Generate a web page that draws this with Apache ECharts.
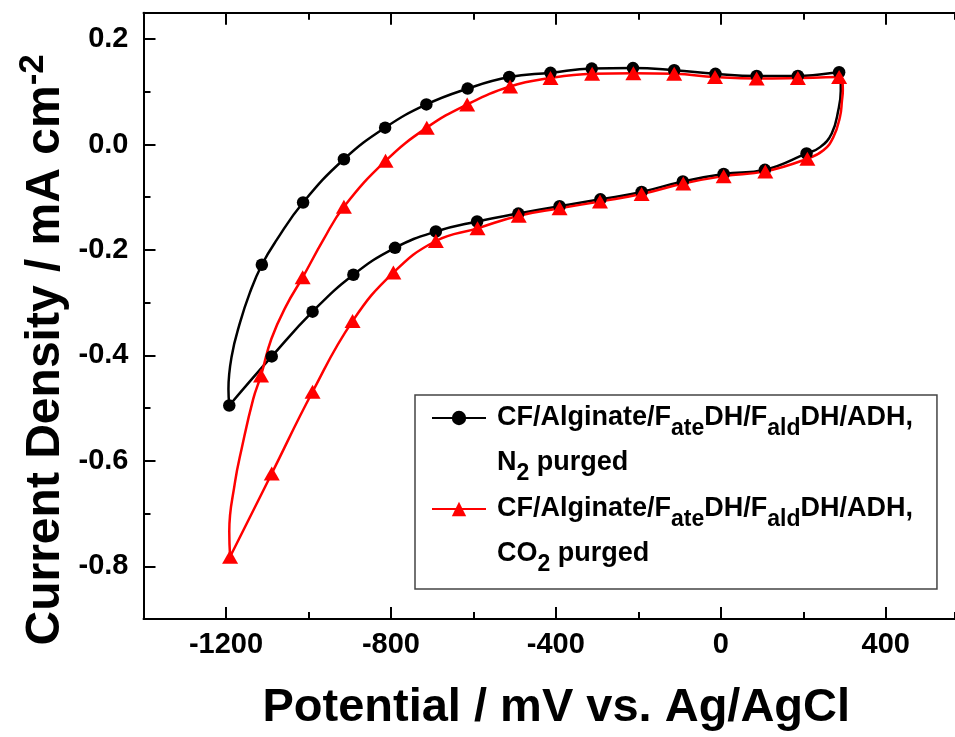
<!DOCTYPE html>
<html>
<head>
<meta charset="utf-8">
<script src="https://cdn.jsdelivr.net/npm/echarts@6/dist/echarts.min.js"></script>
<style>
  html, body { margin: 0; padding: 0; background: #fff; }
  #chart { width: 955px; height: 737px; }
</style>
</head>
<body>
<div id="chart"></div>
<script>
// Cyclic voltammograms: current density (mA cm^-2) against potential (mV vs. Ag/AgCl).
// Each path follows the scan: from the cathodic limit up to +300 mV, then back down.

const n2Path = [
  [-1192, -0.495], [-1194, -0.464], [-1186, -0.401], [-1166, -0.338], [-1142, -0.281],
  [-1113, -0.228], [-1077, -0.181], [-1013, -0.110], [-914, -0.028], [-814, 0.032],
  [-714, 0.076], [-614, 0.106], [-513, 0.128], [-413, 0.136], [-313, 0.144],
  [-213, 0.145], [-113, 0.141], [-13, 0.134], [87, 0.130], [187, 0.130],
  [287, 0.137], [291, 0.102], [285, 0.065], [269, 0.021], [241, -0.005],
  [208, -0.017], [107, -0.048], [7, -0.056], [-92, -0.070], [-192, -0.090],
  [-292, -0.104], [-391, -0.117], [-491, -0.131], [-591, -0.146], [-691, -0.165],
  [-790, -0.196], [-891, -0.247], [-990, -0.317], [-1089, -0.402], [-1192, -0.495]
];

const n2Markers = [
  [-1192, -0.495], [-1113, -0.228], [-1013, -0.110], [-914, -0.028], [-814, 0.032],
  [-714, 0.076], [-614, 0.106], [-513, 0.128], [-413, 0.136], [-313, 0.144],
  [-213, 0.145], [-113, 0.141], [-13, 0.134], [87, 0.130], [187, 0.130],
  [287, 0.137], [208, -0.017], [107, -0.048], [7, -0.056], [-92, -0.070],
  [-192, -0.090], [-292, -0.104], [-391, -0.117], [-491, -0.131], [-591, -0.146],
  [-691, -0.165], [-790, -0.196], [-891, -0.247], [-990, -0.317], [-1089, -0.402]
];

const co2Path = [
  [-1190, -0.782], [-1192, -0.734], [-1178, -0.640], [-1162, -0.577], [-1134, -0.483],
  [-1115, -0.438], [-1090, -0.369], [-1054, -0.306], [-1014, -0.252], [-964, -0.181],
  [-914, -0.118], [-813, -0.031], [-713, 0.032], [-615, 0.076], [-511, 0.110],
  [-413, 0.126], [-312, 0.134], [-212, 0.135], [-113, 0.134], [-14, 0.128],
  [87, 0.125], [187, 0.126], [287, 0.128], [296, 0.103], [294, 0.084],
  [289, 0.052], [273, 0.014], [249, -0.011], [210, -0.027], [108, -0.051],
  [7, -0.060], [-91, -0.074], [-192, -0.094], [-293, -0.108], [-391, -0.121],
  [-490, -0.135], [-590, -0.159], [-691, -0.183], [-794, -0.243], [-893, -0.335],
  [-990, -0.469], [-1089, -0.624], [-1190, -0.782]
];

const co2Markers = [
  [-1190, -0.782], [-1115, -0.438], [-1014, -0.252], [-914, -0.118], [-813, -0.031],
  [-713, 0.032], [-615, 0.076], [-511, 0.110], [-413, 0.126], [-312, 0.134],
  [-212, 0.135], [-113, 0.134], [-14, 0.128], [87, 0.125], [187, 0.126],
  [287, 0.128], [210, -0.027], [108, -0.051], [7, -0.060], [-91, -0.074],
  [-192, -0.094], [-293, -0.108], [-391, -0.121], [-490, -0.135], [-590, -0.159],
  [-691, -0.183], [-794, -0.243], [-893, -0.335], [-990, -0.469], [-1089, -0.624]
];

const xMajorTicks = [-1200, -800, -400, 0, 400];
const yMajorTicks = [-0.8, -0.6, -0.4, -0.2, 0.0, 0.2];

const n2Name = 'N2 purged';
const co2Name = 'CO2 purged';
const legendLabels = {
  [n2Name]: '{m|CF/Alginate/F}{s|ate}{m|DH/F}{s|ald}{m|DH/ADH,}\n{m|N}{s|2}{m| purged}',
  [co2Name]: '{m|CF/Alginate/F}{s|ate}{m|DH/F}{s|ald}{m|DH/ADH,}\n{m|CO}{s|2}{m| purged}'
};

const FONT = '"Liberation Sans", Arial, Helvetica, sans-serif';
const BLACK = '#000000';
const RED = '#ff0000';

// The frame runs past the right edge of the canvas, so the visible x range ends at 568 mV.
const xRange = { min: -1400, max: 568, interval: 200 };
const yRange = { min: -0.9, max: 0.25, interval: 0.1 };

const frameLine = { show: true, onZero: false, lineStyle: { color: BLACK, width: 2 } };

function xAxisBase(extra) {
  return Object.assign({
    type: 'value', gridIndex: 0,
    min: xRange.min, max: xRange.max, interval: xRange.interval,
    splitLine: { show: false },
    axisLine: { show: false, onZero: false },
    axisLabel: { show: false },
    axisTick: { show: true, inside: true, length: 7, lineStyle: { color: BLACK, width: 2 } }
  }, extra);
}
function yAxisBase(extra) {
  return Object.assign({
    type: 'value', gridIndex: 0,
    min: yRange.min, max: yRange.max, interval: yRange.interval,
    splitLine: { show: false },
    axisLine: { show: false, onZero: false },
    axisLabel: { show: false },
    axisTick: { show: true, inside: true, length: 7, lineStyle: { color: BLACK, width: 2 } }
  }, extra);
}

const majorTick = (vals) => ({
  show: true, inside: true, length: 12, customValues: vals,
  lineStyle: { color: BLACK, width: 2 }
});

const chart = echarts.init(document.getElementById('chart'), null, { renderer: 'canvas' });

chart.setOption({
  animation: false,
  backgroundColor: '#ffffff',
  textStyle: { fontFamily: FONT, color: BLACK },
  grid: { left: 143.5, top: 12.7, right: 0, bottom: 114.8, show: false },
  xAxis: [
    xAxisBase({
      position: 'bottom',
      axisLine: frameLine,
      name: 'Potential / mV vs. Ag/AgCl',
      nameLocation: 'middle', nameGap: 66,
      nameTextStyle: { fontFamily: FONT, fontSize: 47, fontWeight: 'bold', color: BLACK, padding: [0, 0, 0, 14] }
    }),
    xAxisBase({
      position: 'bottom',
      axisTick: majorTick(xMajorTicks),
      axisLabel: {
        show: true, customValues: xMajorTicks, margin: 11,
        fontFamily: FONT, fontSize: 29, fontWeight: 'bold', color: BLACK,
        formatter: (v) => String(Math.round(v))
      }
    }),
    xAxisBase({ position: 'top', axisLine: frameLine }),
    xAxisBase({ position: 'top', axisTick: majorTick(xMajorTicks) })
  ],
  yAxis: [
    yAxisBase({
      position: 'left',
      axisLine: frameLine,
      name: '{m|Current Density / mA cm}{p|-2}',
      nameLocation: 'middle', nameGap: 68,
      nameTextStyle: {
        padding: [0, 68, 0, 0],
        rich: {
          m: { fontFamily: FONT, fontSize: 48, fontWeight: 'bold', color: BLACK, lineHeight: 60 },
          p: { fontFamily: FONT, fontSize: 35, fontWeight: 'bold', color: BLACK, lineHeight: 33, verticalAlign: 'top' }
        }
      }
    }),
    yAxisBase({
      position: 'left',
      axisTick: majorTick(yMajorTicks),
      axisLabel: {
        show: true, customValues: yMajorTicks, margin: 15,
        fontFamily: FONT, fontSize: 29, fontWeight: 'bold', color: BLACK,
        formatter: (v) => v.toFixed(1)
      }
    })
  ],
  legend: {
    orient: 'vertical',
    left: 415, top: 395,
    data: [n2Name, co2Name],
    selectedMode: false,
    itemWidth: 54, itemHeight: 18, itemGap: -44,
    padding: [-44.5, 24, 12.5, 16],
    borderColor: '#444444', borderWidth: 1.5,
    backgroundColor: '#ffffff',
    formatter: (name) => legendLabels[name],
    textStyle: {
      padding: [45, 0, 0, 6],
      lineHeight: 45,
      rich: {
        m: { fontFamily: FONT, fontSize: 27, fontWeight: 'bold', color: BLACK, lineHeight: 45 },
        s: { fontFamily: FONT, fontSize: 23, fontWeight: 'bold', color: BLACK, lineHeight: 25, verticalAlign: 'bottom' }
      }
    }
  },
  series: [
    {
      name: n2Name, type: 'line', data: n2Path,
      xAxisIndex: 0, yAxisIndex: 0,
      showSymbol: false, symbol: 'circle', smooth: 0.45,
      lineStyle: { color: BLACK, width: 2.5 }, itemStyle: { color: BLACK },
      z: 2, silent: true
    },
    {
      name: co2Name, type: 'line', data: co2Path,
      xAxisIndex: 0, yAxisIndex: 0,
      showSymbol: false, symbol: 'triangle', smooth: 0.45,
      lineStyle: { color: RED, width: 2.5 }, itemStyle: { color: RED },
      z: 2, silent: true
    },
    {
      name: n2Name, type: 'scatter', data: n2Markers,
      xAxisIndex: 0, yAxisIndex: 0,
      symbol: 'circle', symbolSize: 12.5,
      itemStyle: { color: BLACK, opacity: 1 },
      z: 3, silent: true
    },
    {
      name: co2Name, type: 'scatter', data: co2Markers,
      xAxisIndex: 0, yAxisIndex: 0,
      symbol: 'triangle', symbolSize: [16, 14],
      itemStyle: { color: RED, opacity: 1 },
      z: 3, silent: true
    }
  ]
});
</script>
</body>
</html>
